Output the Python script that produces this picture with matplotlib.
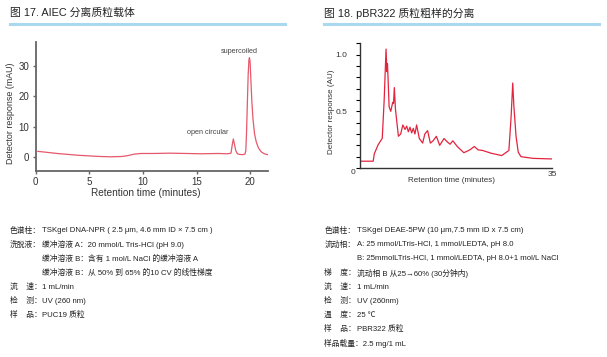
import matplotlib
matplotlib.use('Agg')
import matplotlib.pyplot as plt
from matplotlib.lines import Line2D
from matplotlib.ticker import MultipleLocator

latin = ['Liberation Sans', 'DejaVu Sans']
mixed = ['Liberation Sans', 'Noto Sans CJK SC', 'DejaVu Sans']
plt.rcParams['font.family'] = latin

W, H = 607, 357

# Figure 17: AIEC separation of plasmid vector
t17 = [0.2, 1, 2, 3, 4, 5, 6, 7, 8, 8.6, 9.2, 9.8, 11, 12.5, 14, 15.5, 17, 17.9,
       18.2, 18.32, 18.42, 18.52, 18.65, 18.8, 19.0, 19.3, 19.5, 19.58, 19.65,
       19.72, 19.8, 19.87, 19.92, 19.98, 20.06, 20.15, 20.25, 20.4, 20.55,
       20.75, 21.0, 21.3, 21.75]
v17 = [1.8, 1.5, 1.1, 0.8, 0.5, 0.3, 0.1, 0.0, 0.1, 0.4, 0.9, 1.1, 1.1, 1.2, 1.1,
       1.0, 1.1, 1.0, 1.2, 4.0, 5.9, 4.2, 2.0, 1.0, 0.8, 0.7, 0.9, 2.0, 8, 17,
       27, 32, 32.8, 31.5, 25, 18, 12.5, 7.5, 5, 3, 1.7, 1.0, 0.6]

# Figure 18: pBR322 crude plasmid sample
t18 = [0, 2.4, 2.6, 3.3, 4.05, 4.4, 4.74, 4.9, 5.0, 5.1, 5.3, 5.6, 5.95, 6.1,
       6.25, 6.45, 6.99, 7.4, 7.8, 8.2, 8.5, 8.8, 9.1, 9.4, 9.7, 10.0, 10.3,
       10.8, 11.4, 11.8, 12.3, 12.8, 13.3, 13.9, 14.5, 15.3, 15.9, 16.4, 16.9,
       17.7, 18.9, 20.0, 20.8, 21.5, 22.3, 23.9, 25.8, 27.1, 27.5, 27.8, 28.0,
       28.4, 28.8, 29.3, 31.5, 34.9]
v18 = [0.06, 0.06, 0.125, 0.205, 0.262, 0.6, 1.05, 0.85, 0.92, 0.8, 0.54, 0.5,
       0.58, 0.57, 0.71, 0.52, 0.28, 0.3, 0.38, 0.34, 0.37, 0.32, 0.36, 0.31,
       0.35, 0.30, 0.38, 0.26, 0.22, 0.30, 0.33, 0.22, 0.24, 0.28, 0.20, 0.26,
       0.23, 0.21, 0.24, 0.19, 0.135, 0.16, 0.19, 0.16, 0.155, 0.13, 0.11,
       0.155, 0.45, 0.75, 0.55, 0.28, 0.14, 0.1, 0.085, 0.08]

notes17 = [
    ('色谱柱：', 'TSKgel DNA-NPR ( 2.5 μm, 4.6 mm ID × 7.5 cm )'),
    ('洗脱液：', '缓冲溶液 A：20 mmol/L Tris-HCl (pH 9.0)'),
    ('', '缓冲溶液 B：含有 1 mol/L NaCl 的缓冲溶液 A'),
    ('', '缓冲溶液 B：从 50% 到 65% 的10 CV 的线性梯度'),
    ('流    速：', '1 mL/min'),
    ('检    测：', 'UV (260 nm)'),
    ('样    品：', 'PUC19 质粒'),
]
notes18 = [
    ('色谱柱：', 'TSKgel DEAE-5PW (10 μm,7.5 mm ID x 7.5 cm)'),
    ('流动相：', 'A: 25 mmol/LTris-HCl, 1 mmol/LEDTA, pH 8.0'),
    ('', 'B: 25mmolLTris-HCl, 1 mmol/LEDTA, pH 8.0+1 mol/L NaCl'),
    ('梯    度：', '流动相 B 从25→60% (30分钟内)'),
    ('流    速：', '1 mL/min'),
    ('检    测：', 'UV (260nm)'),
    ('温    度：', '25 ℃'),
    ('样    品：', 'PBR322 质粒'),
    ('样品载量：2.5 mg/1 mL', ''),
]


def fx(x):
    return x / W


def fy(y):
    return 1 - y / H


fig = plt.figure(figsize=(W / 100, H / 100), dpi=100)
fig.patch.set_facecolor('white')

# titles + blue rules
fig.text(fx(10), fy(13), '图 17. AIEC 分离质粒载体', family=mixed, fontsize=7.8,
         va='center', ha='left', color='#222222')
fig.text(fx(324), fy(13), '图 18. pBR322 质粒粗样的分离', family=mixed, fontsize=7.8,
         va='center', ha='left', color='#222222')
fig.add_artist(Line2D([fx(10), fx(285)], [fy(24), fy(24)], color='#a9d8f0', lw=2.2))
fig.add_artist(Line2D([fx(324), fx(599)], [fy(24), fy(24)], color='#a9d8f0', lw=2.2))

# left chart
ax1 = fig.add_axes([fx(35.7), fy(171), fx(268) - fx(35.7), fy(42) - fy(171)])
ax1.plot(t17, v17, color='#e6586c', lw=0.9)
ax1.set_xlim(0, 21.65)
ax1.set_ylim(-4.7, 38)
ax1.set_xticks([0, 5, 10, 15, 20])
ax1.set_yticks([0, 10, 20, 30])
for s in ['top', 'right']:
    ax1.spines[s].set_visible(False)
for s in ['left', 'bottom']:
    ax1.spines[s].set_color('#666666')
    ax1.spines[s].set_linewidth(1.3)
ax1.tick_params(length=2.5, width=1, color='#666666', labelsize=7, pad=2,
                labelcolor='#333333')
ax1.set_xlabel('Retention time (minutes)', fontsize=7.2, color='#333333')
ax1.xaxis.set_label_coords((145.7 - 35.7) / (268 - 35.7), -0.135)
ax1.set_ylabel('Detector response (mAU)', fontsize=6.4, color='#333333')
ax1.yaxis.set_label_coords(-0.09, 0.45)
ax1.text(19.0, 35.0, 'supercoiled', fontsize=5.2, color='#444444', ha='center', va='center')
ax1.text(16.05, 8.0, 'open circular', fontsize=5.2, color='#444444', ha='center', va='center')

# right chart
ax2 = fig.add_axes([fx(360), fy(168), fx(552.3) - fx(360), fy(42.7) - fy(168)])
ax2.plot(t18, v18, color='#e3243f', lw=0.9)
ax2.set_xlim(0, 35)
ax2.set_ylim(0, 1.106)
for s in ['top', 'right']:
    ax2.spines[s].set_visible(False)
for s in ['left', 'bottom']:
    ax2.spines[s].set_color('#333333')
    ax2.spines[s].set_linewidth(1.0)
ax2.set_xticks([35])
ax2.set_xticklabels(['35'])
ax2.set_yticks([0.5, 1.0])
ax2.set_yticklabels(['0.5', '1.0'])
ax2.yaxis.set_minor_locator(MultipleLocator(0.1))
ax2.tick_params(axis='x', length=0, labelsize=6, pad=2, labelcolor='#333333')
ax2.tick_params(axis='y', which='major', length=3, width=0.8, labelsize=6,
                pad=6, labelcolor='#333333')
ax2.tick_params(axis='y', which='minor', length=3, width=0.8)
ax2.text(-0.035, -0.035, '0', transform=ax2.transAxes, fontsize=6,
         ha='center', va='center', color='#333333')
ax2.set_xlabel('Retention time (minutes)', fontsize=5.8, color='#333333')
ax2.xaxis.set_label_coords((452 - 360) / (552.3 - 360), -0.075)
ax2.set_ylabel('Detector response (AU)', fontsize=5.8, color='#333333')
ax2.yaxis.set_label_coords(-0.13, 0.45)

# condition notes
for i, (lab, txt) in enumerate(notes17):
    y = 230.7 + i * 14.1
    if lab:
        fig.text(fx(10), fy(y), lab, family=mixed, fontsize=5.6, va='center', color='#222222')
    fig.text(fx(41.7), fy(y), txt, family=mixed, fontsize=5.6, va='center', color='#222222')

for i, (lab, txt) in enumerate(notes18):
    y = 230.7 + i * 14.1
    if lab:
        fig.text(fx(324.3), fy(y), lab, family=mixed, fontsize=5.6, va='center', color='#222222')
    if txt:
        fig.text(fx(356.7), fy(y), txt, family=mixed, fontsize=5.6, va='center', color='#222222')

fig.savefig('out.png', dpi=100)
